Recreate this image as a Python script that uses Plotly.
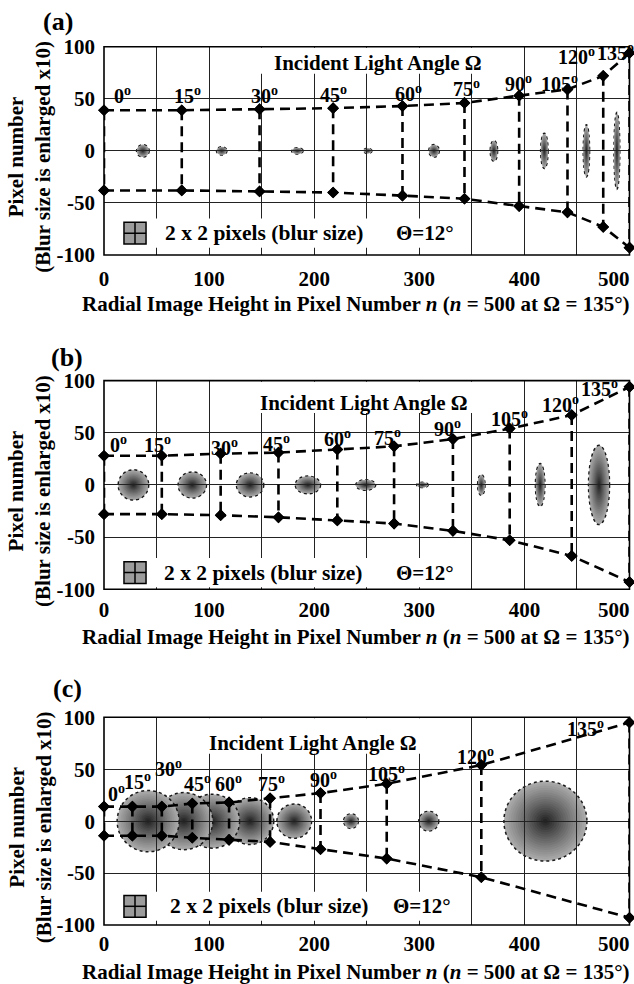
import plotly.graph_objects as go

FIG_W, FIG_H = 634, 984
FONT = "Liberation Serif"

# ---------------- data ----------------
angles = [0, 15, 30, 45, 60, 75, 90, 105, 120, 135]

# (a) pixel position n of each incident angle and the edge of the blur band
a_n = [0, 74, 148, 218, 284, 343, 395, 441, 475, 500]
a_upper = [39, 39, 40, 41, 43, 46, 53, 59, 72, 94]
a_lower = [-38, -38, -39, -40, -43, -46, -53, -59, -73, -93]
a_label_n = [18, 79, 153, 218, 290, 345, 394, 433, 450, 487]
a_label_y = [54, 54, 54, 55, 56, 60, 65, 65, 91, 95]
a_spot_n = [37, 112, 184, 251, 314, 371, 419, 459, 488]
a_spot_w = [12, 10, 11, 8, 10, 7, 7, 6, 5.5]
a_spot_h = [12, 8, 6, 5, 12, 20, 34, 50, 74]

# (b)
b_n = [0, 55, 111, 166, 222, 276, 332, 386, 445, 500]
b_upper = [28, 28, 30, 31, 34, 37, 44, 54, 67, 94]
b_lower = [-28, -28, -29, -31, -34, -37, -44, -53, -68, -93]
b_label_n = [14, 51, 115, 164, 222, 270, 327, 386, 434, 471]
b_label_y = [39, 39, 36, 40, 45, 46, 55, 64, 78, 93]
b_spot_n = [28, 84, 139, 194, 249, 303, 359, 415, 471]
b_spot_w = [29, 27, 26, 24, 19, 11, 7, 9, 20]
b_spot_h = [29, 25, 23, 17, 10, 5, 20, 41, 76]

# (c)
c_n = [0, 27, 55, 84, 119, 158, 206, 269, 359, 500]
c_upper = [14, 14, 14, 17, 18, 22, 27, 36, 54, 95]
c_lower = [-14, -14, -14, -16, -18, -20, -27, -36, -54, -93]
c_label_n = [12, 32, 61, 89, 118, 159, 209, 269, 353, 458]
c_label_y = [27, 39, 51, 37, 37, 37, 41, 46, 63, 90]
c_spot_n = [42, 76, 103, 139, 181, 235, 309, 420]
c_spot_w = [59, 55, 52, 45, 33, 14, 19, 79]
c_spot_h = [59, 55, 52, 45, 33, 14, 19, 77]

x_ticks = [0, 100, 200, 300, 400]
x_tick_text = [str(v) for v in x_ticks]
y_ticks = [-100, -50, 0, 50, 100]
y_tick_text = [str(v) for v in y_ticks]

panels = [
    dict(tag="(a)", n=a_n, up=a_upper, lo=a_lower, lab_n=a_label_n, lab_y=a_label_y,
         spot_n=a_spot_n, spot_w=a_spot_w, spot_h=a_spot_h,
         head=(261, 84), legend_y=-79, legend_x=(56, 276)),
    dict(tag="(b)", n=b_n, up=b_upper, lo=b_lower, lab_n=b_label_n, lab_y=b_label_y,
         spot_n=b_spot_n, spot_w=b_spot_w, spot_h=b_spot_h,
         head=(247, 79), legend_y=-84, legend_x=(55, 276)),
    dict(tag="(c)", n=c_n, up=c_upper, lo=c_lower, lab_n=c_label_n, lab_y=c_label_y,
         spot_n=c_spot_n, spot_w=c_spot_w, spot_h=c_spot_h,
         head=(199, 75), legend_y=-82, legend_x=(61, 273)),
]

# ---------------- layout geometry (pixels) ----------------
PLOT_L, PLOT_R = 104.0, 629.5
panel_px = [(46.7, 255.0), (380.6, 589.3), (717.3, 925.0)]
tick_gap_px = [24, 21, 19]          # plot bottom -> centre of x tick labels
tag_px = [(58, 22), (67, 357), (67, 688)]
xtitle_px = [304, 637, 972]


def px_x(p):
    return p / FIG_W


def px_y(p):
    return 1 - p / FIG_H


def bold(s):
    return "<b>" + s + "</b>"


def gray(v):
    v = int(round(max(0, min(255, v))))
    return f"rgb({v},{v},{v})"


SPOT_CENTER, SPOT_EDGE, LAYERS = 25, 170, 18
GRID = "#222"

fig = go.Figure()
shapes = []
annotations = []

for i, (p, (top, bot)) in enumerate(zip(panels, panel_px)):
    sfx = "" if i == 0 else str(i + 1)
    xa, ya = "x" + sfx, "y" + sfx
    tick_font = dict(family=FONT, size=21, color="black", weight="bold")
    fig.update_layout({
        f"xaxis{sfx}": dict(
            domain=[px_x(PLOT_L), px_x(PLOT_R)], range=[0, 500], anchor=ya,
            tickmode="array", tickvals=x_ticks, ticktext=x_tick_text,
            showgrid=True, gridcolor=GRID, gridwidth=1, zeroline=False,
            minor=dict(tickmode="linear", tick0=0, dtick=50, showgrid=True,
                       gridcolor=GRID, gridwidth=1, ticks=""),
            showline=False, ticks="", tickfont=tick_font,
            ticklabelstandoff=tick_gap_px[i] - 15,
            automargin=False, fixedrange=True),
        f"yaxis{sfx}": dict(
            domain=[px_y(bot), px_y(top)], range=[-100, 100], anchor=xa,
            tickmode="array", tickvals=y_ticks, ticktext=y_tick_text,
            showgrid=True, gridcolor=GRID, gridwidth=1, zeroline=False,
            showline=False, ticks="", tickfont=tick_font, ticklabelstandoff=8,
            automargin=False, fixedrange=True),
    })

    # blur spots: layered ellipses give a radial gray gradient, drawn right to left
    spots = list(zip(p["spot_n"], p["spot_w"], p["spot_h"]))
    for cx, w, h in reversed(spots):
        for k in range(LAYERS):
            f = 1 - k / LAYERS
            col = gray(SPOT_CENTER + (SPOT_EDGE - SPOT_CENTER) * f ** 0.9)
            shp = dict(type="circle", xref=xa, yref=ya, layer="below",
                       x0=cx - w * f / 2, x1=cx + w * f / 2,
                       y0=-h * f / 2, y1=h * f / 2,
                       fillcolor=col, line=dict(width=0))
            if k == 0:
                shp["line"] = dict(color="#1a1a1a", width=1.5, dash="dot")
            shapes.append(shp)

    # dashed envelope: upper edge, lower edge and a vertical at every angle
    xs, ys = [], []
    xs += p["n"] + [None]
    ys += p["up"] + [None]
    xs += p["n"] + [None]
    ys += p["lo"] + [None]
    for n, u, l in zip(p["n"], p["up"], p["lo"]):
        xs += [n, n, None]
        ys += [u, l, None]
    fig.add_trace(go.Scatter(
        x=xs, y=ys, xaxis=xa, yaxis=ya, mode="lines+markers",
        line=dict(color="black", width=2.6, dash="10px,6px"),
        marker=dict(symbol="diamond", size=9, color="black"),
        showlegend=False, hoverinfo="skip", cliponaxis=False))

    # white panels behind the heading and the legend row
    hx, hy = p["head"]
    shapes.append(dict(type="rect", xref=xa, yref=ya, layer="above",
                       x0=hx - 112, x1=hx + 104, y0=hy - 10, y1=99,
                       fillcolor="white", line=dict(width=0)))
    ly = p["legend_y"]
    shapes.append(dict(type="rect", xref=xa, yref=ya, layer="above",
                       x0=8, x1=340, y0=ly - 14, y1=ly + 14,
                       fillcolor="white", line=dict(width=0)))
    # legend icon: one gray square split into 2 x 2 pixels
    shapes.append(dict(type="rect", xref=xa, yref=ya, layer="above",
                       x0=19, x1=40, y0=ly - 10.5, y1=ly + 10.5,
                       fillcolor="#9c9c9c", line=dict(color="black", width=1.5)))
    shapes.append(dict(type="line", xref=xa, yref=ya, layer="above",
                       x0=29.5, x1=29.5, y0=ly - 10.5, y1=ly + 10.5,
                       line=dict(color="black", width=1.5)))
    shapes.append(dict(type="line", xref=xa, yref=ya, layer="above",
                       x0=19, x1=40, y0=ly, y1=ly,
                       line=dict(color="black", width=1.5)))
    # frame
    shapes.append(dict(type="rect", xref=f"{xa} domain", yref=f"{ya} domain",
                       layer="above", x0=0, x1=1, y0=0, y1=1,
                       line=dict(color="black", width=1.6)))

    # angle labels
    for a, lx, lyy in zip(angles, p["lab_n"], p["lab_y"]):
        annotations.append(dict(
            xref=xa, yref=ya, x=lx, y=lyy, showarrow=False,
            text=bold(f"{a}<sup>o</sup>"), xanchor="center", yanchor="middle",
            font=dict(family=FONT, size=20, color="black")))
    annotations.append(dict(
        xref=xa, yref=ya, x=hx, y=hy, showarrow=False,
        text=bold("Incident Light Angle Ω"), xanchor="center", yanchor="middle",
        font=dict(family=FONT, size=21, color="black")))
    tx, thx = p["legend_x"]
    annotations.append(dict(
        xref=xa, yref=ya, x=tx, y=ly, showarrow=False,
        text=bold("2 x 2 pixels (blur size)"), xanchor="left", yanchor="middle",
        font=dict(family=FONT, size=21.5, color="black")))
    annotations.append(dict(
        xref=xa, yref=ya, x=thx, y=ly, showarrow=False,
        text=bold("Θ=12°"), xanchor="left", yanchor="middle",
        font=dict(family=FONT, size=21, color="black")))
    # last x tick label, kept inside the page
    annotations.append(dict(
        xref=xa, yref="paper", x=500, y=px_y(bot + tick_gap_px[i]), showarrow=False,
        text=bold("500"), xanchor="right", yanchor="middle", xshift=2,
        font=dict(family=FONT, size=21, color="black")))
    # axis titles
    annotations.append(dict(
        xref="paper", yref="paper", x=px_x(356), y=px_y(xtitle_px[i]),
        showarrow=False, xanchor="center", yanchor="middle",
        text=bold("Radial Image Height in Pixel Number <i>n</i> "
                  "(<i>n</i> = 500 at Ω = 135°)"),
        font=dict(family=FONT, size=21, color="black")))
    annotations.append(dict(
        xref="paper", yref="paper", x=px_x(30), y=px_y((top + bot) / 2 + 6),
        showarrow=False, xanchor="center", yanchor="middle", textangle=-90,
        text=bold("Pixel number<br>(Blur size is enlarged x10)"),
        font=dict(family=FONT, size=21, color="black")))
    tgx, tgy = tag_px[i]
    annotations.append(dict(
        xref="paper", yref="paper", x=px_x(tgx), y=px_y(tgy),
        showarrow=False, xanchor="center", yanchor="middle",
        text=bold(p["tag"]), font=dict(family=FONT, size=26, color="black")))

fig.update_layout(
    width=FIG_W, height=FIG_H,
    margin=dict(l=0, r=0, t=0, b=0, autoexpand=False),
    paper_bgcolor="white", plot_bgcolor="white",
    showlegend=False,
    shapes=shapes, annotations=annotations,
    font=dict(family=FONT, color="black"),
)

fig.write_html("out.html", config={"displayModeBar": False})
